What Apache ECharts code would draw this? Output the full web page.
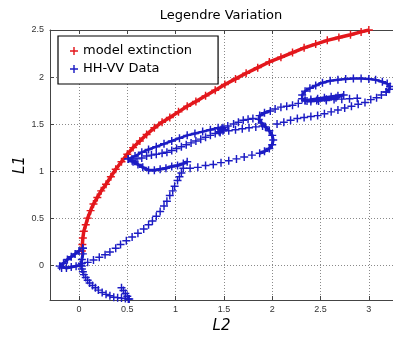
<!DOCTYPE html>
<html>
<head>
<meta charset="utf-8">
<script src="https://cdn.jsdelivr.net/npm/echarts@6/dist/echarts.min.js"></script>
<style>
  html, body { margin: 0; padding: 0; background: #fff; }
  #chart { width: 393px; height: 339px; }
</style>
</head>
<body>
<div id="chart"></div>
<script>
// [L2, L1] pairs
const modelExtinction = [
  [0.03, 0.15], [0.035, 0.22], [0.04, 0.29], [0.05, 0.36], [0.07, 0.43], [0.09, 0.50],
  [0.12, 0.58], [0.15, 0.65], [0.19, 0.72], [0.23, 0.79], [0.28, 0.86], [0.33, 0.94],
  [0.38, 1.02], [0.44, 1.10], [0.50, 1.18], [0.56, 1.25], [0.63, 1.32], [0.70, 1.39],
  [0.78, 1.46], [0.86, 1.52], [0.94, 1.57], [1.03, 1.63], [1.12, 1.69], [1.21, 1.74],
  [1.31, 1.80], [1.41, 1.86], [1.51, 1.92], [1.62, 1.98], [1.73, 2.04], [1.85, 2.10],
  [1.97, 2.16], [2.09, 2.21], [2.21, 2.26], [2.33, 2.31], [2.45, 2.35], [2.57, 2.39],
  [2.69, 2.42], [2.81, 2.45], [2.92, 2.48], [3.00, 2.50]
];

const hookTail = [[0.44, -0.24], [0.46, -0.27], [0.48, -0.30], [0.50, -0.33], [0.51, -0.36]];
const hookCurve = [
  [0.52, -0.36], [0.48, -0.355], [0.44, -0.35], [0.40, -0.345], [0.36, -0.34], [0.32, -0.325],
  [0.28, -0.31], [0.24, -0.29], [0.20, -0.265], [0.17, -0.24], [0.14, -0.215], [0.11, -0.19],
  [0.09, -0.16], [0.07, -0.13], [0.05, -0.10], [0.04, -0.07], [0.03, -0.04], [0.03, -0.01], [0.03, 0.02]
];
const originTriangle = [
  [0.04, 0.18], [0.0, 0.15], [-0.04, 0.12], [-0.08, 0.09], [-0.12, 0.06], [-0.16, 0.02],
  [-0.20, -0.01], [-0.18, -0.03], [-0.13, -0.03], [-0.08, -0.02], [-0.03, -0.01], [0.02, 0.0],
  [0.03, 0.06], [0.04, 0.12], [0.04, 0.18]
];
const originDiagonal = [
  [0.09, 0.03], [0.15, 0.055], [0.21, 0.085], [0.27, 0.11], [0.32, 0.14], [0.38, 0.18],
  [0.43, 0.22], [0.49, 0.26], [0.55, 0.30], [0.61, 0.34], [0.67, 0.385], [0.72, 0.43],
  [0.76, 0.47], [0.80, 0.52], [0.84, 0.57], [0.88, 0.63], [0.91, 0.68], [0.94, 0.74],
  [0.97, 0.79], [0.99, 0.84], [1.02, 0.90], [1.04, 0.94], [1.06, 0.98], [1.08, 1.03]
];
const midTriangle = [
  [1.12, 1.10], [1.08, 1.08], [1.02, 1.06], [0.96, 1.05], [0.90, 1.03], [0.84, 1.02],
  [0.78, 1.01], [0.72, 1.01], [0.66, 1.04], [0.61, 1.07], [0.56, 1.10], [0.51, 1.13]
];
const upperStrand = [
  [0.51, 1.13], [0.58, 1.16], [0.65, 1.20], [0.72, 1.23], [0.80, 1.26], [0.88, 1.29],
  [0.96, 1.32], [1.04, 1.35], [1.12, 1.38], [1.20, 1.40], [1.28, 1.42], [1.36, 1.44],
  [1.44, 1.46], [1.49, 1.46]
];
const lowerStrand = [
  [0.55, 1.11], [0.60, 1.13], [0.65, 1.14], [0.70, 1.16], [0.75, 1.17], [0.80, 1.18],
  [0.86, 1.19], [0.91, 1.20], [0.96, 1.22], [1.01, 1.24], [1.06, 1.26], [1.11, 1.28],
  [1.16, 1.30], [1.21, 1.32], [1.26, 1.34], [1.31, 1.36], [1.36, 1.38], [1.41, 1.40], [1.46, 1.42]
];
const blob = [[1.45, 1.42], [1.47, 1.44], [1.49, 1.43], [1.48, 1.45], [1.46, 1.41], [1.50, 1.44]];
const upperRow = [
  [1.54, 1.48], [1.60, 1.50], [1.65, 1.52], [1.70, 1.54], [1.75, 1.55], [1.80, 1.56],
  [2.03, 1.66], [2.09, 1.68], [2.15, 1.69], [2.21, 1.70], [2.27, 1.72], [2.40, 1.74],
  [2.48, 1.745], [2.56, 1.75], [2.64, 1.76], [2.72, 1.765], [2.80, 1.77], [2.88, 1.775]
];
const sCurve = [
  [1.98, 1.64], [1.92, 1.62], [1.87, 1.59], [1.86, 1.55], [1.89, 1.51], [1.93, 1.47],
  [1.97, 1.43], [2.00, 1.38], [2.01, 1.33], [2.00, 1.28], [1.97, 1.24], [1.92, 1.21], [1.87, 1.19]
];
const lowerReturn = [
  [1.15, 1.03], [1.23, 1.04], [1.31, 1.06], [1.39, 1.07], [1.47, 1.09], [1.55, 1.11],
  [1.63, 1.13], [1.71, 1.15], [1.79, 1.17]
];
const middleRow = [
  [1.55, 1.43], [1.62, 1.44], [1.69, 1.45], [1.76, 1.46], [1.83, 1.47], [1.90, 1.48],
  [2.05, 1.50], [2.12, 1.52], [2.19, 1.54], [2.26, 1.56], [2.33, 1.57], [2.40, 1.58],
  [2.47, 1.59], [2.54, 1.61], [2.61, 1.63], [2.68, 1.65], [2.75, 1.67], [2.82, 1.69],
  [2.89, 1.71], [2.96, 1.73], [3.02, 1.76], [3.08, 1.78], [3.13, 1.81], [3.18, 1.84]
];
const outerLoop = [
  [3.18, 1.84], [3.21, 1.87], [3.22, 1.90], [3.19, 1.93], [3.14, 1.95], [3.07, 1.97],
  [3.00, 1.98], [2.92, 1.985], [2.84, 1.985], [2.76, 1.98], [2.68, 1.97], [2.60, 1.96],
  [2.52, 1.94], [2.45, 1.91], [2.39, 1.88], [2.34, 1.85], [2.31, 1.81], [2.31, 1.77], [2.34, 1.75]
];
const innerArrow = [
  [2.34, 1.75], [2.40, 1.76], [2.47, 1.77], [2.54, 1.78], [2.61, 1.79], [2.68, 1.80], [2.74, 1.81],
  [2.66, 1.78], [2.56, 1.765], [2.46, 1.75], [2.36, 1.745]
];

const names = ['model extinction', 'HH-VV Data'];

const RED = '#e3171c';
const BLUE = '#1c1cc4';
const FONT = '"Comic Sans MS", "DejaVu Sans", sans-serif';
const plus = 'path://M4.1,0H5.9V4.1H10V5.9H5.9V10H4.1V5.9H0V4.1H4.1Z';

const chart = echarts.init(document.getElementById('chart'), null, { renderer: 'canvas' });

// dense stretches: markers packed into a band
const band = (name, data, color, w) => ({
  name, type: 'line', data, symbol: plus, symbolSize: 8, showSymbol: true,
  itemStyle: { color, opacity: 1 }, lineStyle: { color, width: w }, animation: false, z: 3
});
// sparse stretches: single crosses
const dots = (name, data, color) => ({
  name, type: 'scatter', data, symbol: plus, symbolSize: 8,
  itemStyle: { color, opacity: 1 }, animation: false, z: 3
});

const tickFmt = (v) => {
  if (Math.abs(v * 2 - Math.round(v * 2)) > 1e-6) return '';
  return Math.abs(v) < 1e-9 ? '0' : String(Math.round(v * 10) / 10);
};

const gridLine = { show: true, lineStyle: { color: '#8a8a8a', type: [1, 2], width: 1 } };
const axisLine = { show: true, onZero: false, lineStyle: { color: '#444', width: 1 } };
const axisTick = { inside: true, length: 4, lineStyle: { color: '#444' } };

chart.setOption({
  backgroundColor: '#fff',
  title: {
    text: 'Legendre Variation',
    left: 216, top: 4, textAlign: 'center',
    textStyle: { fontFamily: FONT, fontSize: 13, fontWeight: 'normal', color: '#000' }
  },
  legend: {
    data: names,
    orient: 'vertical',
    left: 58, top: 36,
    icon: plus, itemWidth: 8, itemHeight: 8, itemGap: 2,
    padding: [7, 26, 7, 12],
    backgroundColor: '#fff', borderColor: '#000', borderWidth: 1.2, borderRadius: 0,
    textStyle: { fontFamily: FONT, fontSize: 13, color: '#000', lineHeight: 16 }
  },
  grid: { left: 50, top: 30, right: 0, bottom: 33 },
  xAxis: [{
    type: 'value', min: -0.3, max: 3.25, splitNumber: 7, minInterval: 0.5, maxInterval: 0.5,
    name: 'L2', nameLocation: 'middle', nameGap: 19, nameMoveOverlap: false,
    nameTextStyle: { fontFamily: FONT, fontSize: 15, fontStyle: 'italic', color: '#000' },
    axisLine, axisTick,
    axisLabel: { fontSize: 9, color: '#333', margin: 5, showMinLabel: false, showMaxLabel: false, formatter: tickFmt },
    splitLine: gridLine
  }, {
    type: 'value', position: 'top', min: -0.3, max: 3.25, splitNumber: 7, minInterval: 0.5, maxInterval: 0.5,
    axisLine, axisTick,
    axisLabel: { show: false }, splitLine: { show: false }
  }],
  yAxis: {
    type: 'value', min: -0.37, max: 2.5, splitNumber: 6, minInterval: 0.5, maxInterval: 0.5,
    name: 'L1', nameLocation: 'middle', nameGap: 22, nameMoveOverlap: false,
    nameTextStyle: { fontFamily: FONT, fontSize: 15, fontStyle: 'italic', color: '#000' },
    axisLine, axisTick,
    axisLabel: { fontSize: 9, color: '#333', margin: 6, showMinLabel: false, formatter: tickFmt },
    splitLine: gridLine
  },
  series: [
    band(names[0], modelExtinction, RED, 3.5),
    band(names[1], originTriangle, BLUE, 3),
    dots(names[1], hookTail, BLUE),
    dots(names[1], hookCurve, BLUE),
    dots(names[1], originDiagonal, BLUE),
    band(names[1], midTriangle, BLUE, 3),
    band(names[1], upperStrand, BLUE, 2.5),
    dots(names[1], lowerStrand, BLUE),
    dots(names[1], blob, BLUE),
    dots(names[1], upperRow, BLUE),
    band(names[1], sCurve, BLUE, 3),
    dots(names[1], lowerReturn, BLUE),
    dots(names[1], middleRow, BLUE),
    band(names[1], outerLoop, BLUE, 2.5),
    band(names[1], innerArrow, BLUE, 3)
  ]
});
</script>
</body>
</html>
